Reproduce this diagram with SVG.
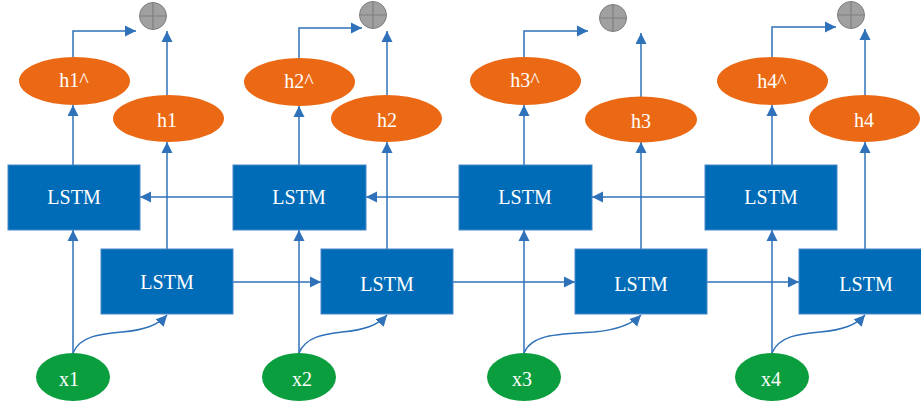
<svg xmlns="http://www.w3.org/2000/svg" width="921" height="405" viewBox="0 0 921 405">
<defs>
<marker id="ah" viewBox="0 0 10 10" refX="10" refY="5" markerUnits="userSpaceOnUse" markerWidth="11" markerHeight="12" orient="auto">
<path d="M0,0 L10,5 L0,10 z" fill="#2F72BA"/>
</marker>
</defs>
<style>
.box{fill:#006CB7;stroke:#4A86C8;stroke-width:1}
.h{fill:#EB6914}
.x{fill:#0B9E3E}
.sum{fill:#A0A0A0;stroke:#7F7F7F;stroke-width:1}
.sumx{stroke:#7F7F7F;stroke-width:1.2}
.t{fill:#FFFFFF;font-family:"Liberation Serif","DejaVu Serif",serif;font-size:20px;text-anchor:middle}
.c{fill:none;stroke:#2F72BA;stroke-width:1.5;marker-end:url(#ah)}
.n{fill:none;stroke:#2F72BA;stroke-width:1.5}
</style>
<rect width="921" height="405" fill="#FFFFFF"/>
<g id="connectors">
<!-- top row, right to left -->
<path class="c" d="M705,197 H592"/>
<path class="c" d="M459,197 H366"/>
<path class="c" d="M233,197 H140"/>
<!-- bottom row, left to right -->
<path class="c" d="M233,282 H321"/>
<path class="c" d="M453,282 H575"/>
<path class="c" d="M707,282 H799"/>
<!-- x to top LSTM -->
<path class="c" d="M73,353 V230"/>
<path class="c" d="M299,353 V230"/>
<path class="c" d="M524,353 V230"/>
<path class="c" d="M772,353 V230"/>
<!-- x to bottom LSTM (curves) -->
<path class="c" d="M73,353 C80,336 100,334 122,332 C145,330 158,325 167,315"/>
<path class="c" d="M299,353 C306,336 326,334 342,332 C365,330 378,325 387,315"/>
<path class="c" d="M524,353 C531,336 551,334 594,332 C617,330 631,325 641,315"/>
<path class="c" d="M772,353 C779,336 799,334 820,332 C843,330 856,325 865,315"/>
<!-- top LSTM to h^ -->
<path class="c" d="M73,165 V105"/>
<path class="c" d="M299,165 V106"/>
<path class="c" d="M524,165 V105"/>
<path class="c" d="M772,165 V105"/>
<!-- bottom LSTM to h -->
<path class="c" d="M167,249 V142"/>
<path class="c" d="M387,249 V142"/>
<path class="c" d="M641,249 V142"/>
<path class="c" d="M865,249 V142"/>
<!-- h^ to sum -->
<path class="c" d="M73,57 V31 H136"/>
<path class="c" d="M299,59 V28 H362"/>
<path class="c" d="M524,57 V31 H588"/>
<path class="c" d="M772,57 V27 H836"/>
<!-- h to sum -->
<path class="c" d="M167,95 V31"/>
<path class="c" d="M387,95 V31"/>
<path class="c" d="M641,97 V33"/>
<path class="c" d="M865,95 V29"/>
</g>
<g id="sum1"><circle class="sum" cx="153" cy="16" r="13.5"/><path class="sumx" d="M139.5,16 H166.5 M153,2.5 V29.5"/></g>
<g id="sum2"><circle class="sum" cx="373" cy="15" r="13.5"/><path class="sumx" d="M359.5,15 H386.5 M373,1.5 V28.5"/></g>
<g id="sum3"><circle class="sum" cx="613" cy="18" r="13.5"/><path class="sumx" d="M599.5,18 H626.5 M613,4.5 V31.5"/></g>
<g id="sum4"><circle class="sum" cx="851" cy="15" r="13.5"/><path class="sumx" d="M837.5,15 H864.5 M851,1.5 V28.5"/></g>
<g id="lstm_b1"><rect class="box" x="8" y="165" width="132" height="65"/><text class="t" x="74" y="204">LSTM</text></g>
<g id="lstm_b2"><rect class="box" x="233" y="165" width="133" height="65"/><text class="t" x="299" y="204">LSTM</text></g>
<g id="lstm_b3"><rect class="box" x="459" y="165" width="133" height="65"/><text class="t" x="525" y="204">LSTM</text></g>
<g id="lstm_b4"><rect class="box" x="705" y="165" width="132" height="65"/><text class="t" x="771" y="204">LSTM</text></g>
<g id="lstm_f1"><rect class="box" x="101" y="249" width="132" height="65"/><text class="t" x="167" y="289">LSTM</text></g>
<g id="lstm_f2"><rect class="box" x="321" y="249" width="132" height="65"/><text class="t" x="387" y="291">LSTM</text></g>
<g id="lstm_f3"><rect class="box" x="575" y="249" width="132" height="65"/><text class="t" x="641" y="291">LSTM</text></g>
<g id="lstm_f4"><rect class="box" x="799" y="249" width="132" height="65"/><text class="t" x="866" y="291">LSTM</text></g>
<g id="h1hat"><ellipse class="h" cx="74.5" cy="81" rx="55.5" ry="24"/><text class="t" x="74" y="87">h1^</text></g>
<g id="h2hat"><ellipse class="h" cx="299.5" cy="82" rx="55.5" ry="24"/><text class="t" x="299" y="88">h2^</text></g>
<g id="h3hat"><ellipse class="h" cx="525.5" cy="81" rx="55.5" ry="24"/><text class="t" x="525" y="87">h3^</text></g>
<g id="h4hat"><ellipse class="h" cx="772.5" cy="81" rx="55.5" ry="24"/><text class="t" x="772" y="88">h4^</text></g>
<g id="h1"><ellipse class="h" cx="168.5" cy="118.5" rx="55.5" ry="23.5"/><text class="t" x="167" y="127">h1</text></g>
<g id="h2"><ellipse class="h" cx="386.5" cy="118.5" rx="55.5" ry="23.5"/><text class="t" x="387" y="127">h2</text></g>
<g id="h3"><ellipse class="h" cx="641" cy="119.5" rx="56" ry="23"/><text class="t" x="641" y="128">h3</text></g>
<g id="h4"><ellipse class="h" cx="864.5" cy="118.5" rx="55.5" ry="23.5"/><text class="t" x="864" y="127">h4</text></g>
<g id="x1"><ellipse class="x" cx="73" cy="377" rx="37" ry="24"/><text class="t" x="69" y="386">x1</text></g>
<g id="x2"><ellipse class="x" cx="299" cy="377" rx="37" ry="24"/><text class="t" x="302" y="386">x2</text></g>
<g id="x3"><ellipse class="x" cx="524" cy="377" rx="37" ry="24"/><text class="t" x="522" y="386">x3</text></g>
<g id="x4"><ellipse class="x" cx="772" cy="377" rx="37" ry="24"/><text class="t" x="771" y="386">x4</text></g>
</svg>
